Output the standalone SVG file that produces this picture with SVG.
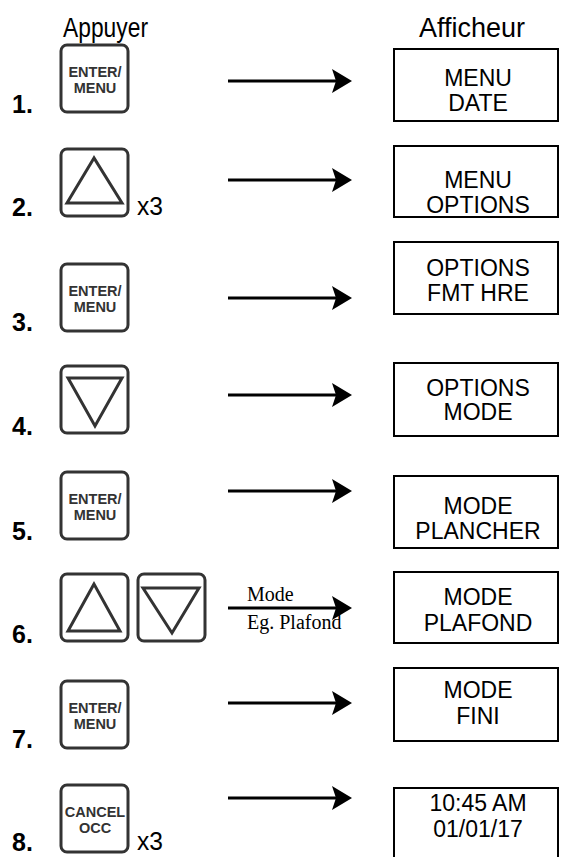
<svg xmlns="http://www.w3.org/2000/svg" width="561" height="857" viewBox="0 0 561 857">
<style>
.btn{fill:#fff;stroke:#333;stroke-width:3}
.tri{fill:none;stroke:#333;stroke-width:3;stroke-linejoin:miter}
.bt{font-family:"Liberation Sans",Arial,sans-serif;font-weight:bold;font-size:14.5px;fill:#333;text-anchor:middle}
.num{font-family:"Liberation Sans",Arial,sans-serif;font-weight:bold;font-size:25px;fill:#000}
.disp{fill:#fff;stroke:#000;stroke-width:2}
.dt{font-family:"Liberation Sans",Arial,sans-serif;font-size:23px;fill:#000;text-anchor:middle}
.hd{font-family:"Liberation Sans",Arial,sans-serif;font-size:27px;fill:#000}
.x3{font-family:"Liberation Sans",Arial,sans-serif;font-size:26px;fill:#000}
.ln{stroke:#000;stroke-width:3}
.lbl{font-family:"Liberation Serif","Times New Roman",serif;font-size:20px;fill:#000}
</style>
<defs>
<path id="ah" d="M0,0 L-20,-12 L-16,0 L-20,12 Z" fill="#000"/>
</defs>
<text class="hd" x="63" y="37" textLength="85" lengthAdjust="spacingAndGlyphs">Appuyer</text>
<text class="hd" x="419" y="37">Afficheur</text>

<g id="step1">
<text class="num" x="12" y="113">1.</text>
<rect class="btn" x="61" y="45" width="67" height="67" rx="6"/>
<text class="bt" x="95" y="77">ENTER/</text>
<text class="bt" x="95" y="93">MENU</text>
</g>
<g id="step2">
<text class="num" x="12" y="216">2.</text>
<rect class="btn" x="61" y="149" width="67" height="67" rx="6"/>
<path class="tri" d="M94,158 L67,203 L122,203 Z"/>
<text class="x3" x="137" y="215" textLength="26" lengthAdjust="spacingAndGlyphs">x3</text>
</g>
<g id="step3">
<text class="num" x="12" y="331">3.</text>
<rect class="btn" x="61" y="264" width="67" height="67" rx="6"/>
<text class="bt" x="95" y="296">ENTER/</text>
<text class="bt" x="95" y="312">MENU</text>
</g>
<g id="step4">
<text class="num" x="12" y="435">4.</text>
<rect class="btn" x="61" y="366" width="67" height="67" rx="6"/>
<path class="tri" d="M68,378 L122,378 L95,426 Z"/>
</g>
<g id="step5">
<text class="num" x="12" y="540">5.</text>
<rect class="btn" x="61" y="472" width="67" height="67" rx="6"/>
<text class="bt" x="95" y="504">ENTER/</text>
<text class="bt" x="95" y="520">MENU</text>
</g>
<g id="step6">
<text class="num" x="12" y="643">6.</text>
<rect class="btn" x="61" y="574" width="67" height="67" rx="6"/>
<path class="tri" d="M94,584 L68,631 L120,631 Z"/>
<rect class="btn" x="138" y="574" width="67" height="67" rx="6"/>
<path class="tri" d="M143,588 L199,588 L172,633 Z"/>
</g>
<g id="step7">
<text class="num" x="12" y="748">7.</text>
<rect class="btn" x="61" y="681" width="67" height="67" rx="6"/>
<text class="bt" x="95" y="713">ENTER/</text>
<text class="bt" x="95" y="729">MENU</text>
</g>
<g id="step8">
<text class="num" x="12" y="851">8.</text>
<rect class="btn" x="61" y="785" width="67" height="67" rx="6"/>
<text class="bt" x="95" y="817">CANCEL</text>
<text class="bt" x="95" y="833">OCC</text>
<text class="x3" x="137" y="850" textLength="26" lengthAdjust="spacingAndGlyphs">x3</text>
</g>

<g id="display1"><rect class="disp" x="394" y="49" width="164" height="72"/><text class="dt" x="478" y="86">MENU</text><text class="dt" x="478" y="111">DATE</text></g>
<g id="display2"><rect class="disp" x="394" y="146" width="164" height="71"/><text class="dt" x="478" y="188">MENU</text><text class="dt" x="478" y="213">OPTIONS</text></g>
<g id="display3"><rect class="disp" x="394" y="242" width="164" height="72"/><text class="dt" x="478" y="276">OPTIONS</text><text class="dt" x="478" y="301">FMT HRE</text></g>
<g id="display4"><rect class="disp" x="394" y="363" width="164" height="73"/><text class="dt" x="478" y="396">OPTIONS</text><text class="dt" x="478" y="420">MODE</text></g>
<g id="display5"><rect class="disp" x="394" y="476" width="164" height="72"/><text class="dt" x="478" y="514">MODE</text><text class="dt" x="478" y="539">PLANCHER</text></g>
<g id="display6"><rect class="disp" x="394" y="572" width="164" height="71"/><text class="dt" x="478" y="605">MODE</text><text class="dt" x="478" y="631">PLAFOND</text></g>
<g id="display7"><rect class="disp" x="394" y="668" width="164" height="73"/><text class="dt" x="478" y="698">MODE</text><text class="dt" x="478" y="724">FINI</text></g>
<g id="display8"><rect class="disp" x="394" y="788" width="164" height="72"/><text class="dt" x="478" y="811">10:45 AM</text><text class="dt" x="478" y="837">01/01/17</text></g>

<g id="connectors">
<line class="ln" x1="228" y1="81" x2="340" y2="81"/><use href="#ah" x="352" y="81"/>
<line class="ln" x1="228" y1="180" x2="340" y2="180"/><use href="#ah" x="352" y="180"/>
<line class="ln" x1="228" y1="298" x2="340" y2="298"/><use href="#ah" x="352" y="298"/>
<line class="ln" x1="228" y1="395" x2="340" y2="395"/><use href="#ah" x="352" y="395"/>
<line class="ln" x1="228" y1="491" x2="340" y2="491"/><use href="#ah" x="352" y="491"/>
<line class="ln" x1="228" y1="608" x2="340" y2="608"/><use href="#ah" x="352" y="608"/>
<line class="ln" x1="228" y1="703" x2="340" y2="703"/><use href="#ah" x="352" y="703"/>
<line class="ln" x1="228" y1="798" x2="340" y2="798"/><use href="#ah" x="352" y="798"/>
<text class="lbl" x="247" y="601">Mode</text>
<text class="lbl" x="247" y="629">Eg. Plafond</text>
</g>
</svg>
